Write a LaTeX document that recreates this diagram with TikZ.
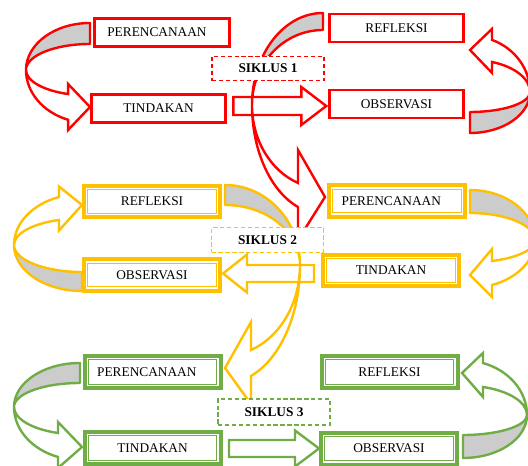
\documentclass[tikz,border=0pt]{standalone}
\usepackage{fontspec}
\setmainfont{Liberation Serif}
\usetikzlibrary{calc,backgrounds}

\definecolor{sred}{HTML}{FF0000}
\definecolor{syellow}{HTML}{FFC000}
\definecolor{sgreen}{HTML}{70AD47}

\tikzstyle{box1} = [rectangle, draw=sred, line width=2.2pt, fill=white, text width=82pt, inner xsep=9.5pt, minimum height=21pt, align=center]
\tikzstyle{box2} = [rectangle, draw=syellow, line width=3pt, fill=white, text width=83pt, inner xsep=9.5pt, minimum height=23.5pt, align=center, path picture={\draw[syellow, line width=0.7pt] ([shift={(2.9pt,-2.9pt)}]path picture bounding box.north west) rectangle ([shift={(-2.9pt,2.9pt)}]path picture bounding box.south east);}]
\tikzstyle{box3} = [rectangle, draw=sgreen, line width=3pt, fill=white, text width=83pt, inner xsep=9.5pt, minimum height=24pt, align=center, path picture={\draw[sgreen, line width=0.7pt] ([shift={(2.9pt,-2.9pt)}]path picture bounding box.north west) rectangle ([shift={(-2.9pt,2.9pt)}]path picture bounding box.south east);}]
\tikzstyle{lft} = [align=left]
\tikzstyle{tag} = [rectangle, dash pattern=on 3.2pt off 2pt, line width=0.8pt, fill=white, minimum width=84pt, minimum height=18.5pt, font=\bfseries]
\tikzstyle{flat} = [line width=1.8pt, fill=white, line join=miter]
\tikzstyle{back} = [line width=1.8pt, fill=gray!40, line join=round]
\tikzstyle{front} = [line width=1.8pt, fill=white, line join=miter]

\begin{document}
\begin{tikzpicture}[x=0.75pt, y=-0.75pt]
    \useasboundingbox (0,0) rectangle (528,466);

    \node (pr1) [box1, lft] at (162,32.5) {PERENCANAAN};
    \node (ti1) [box1] at (158.5,108.5) {TINDAKAN};
    \node (re1) [box1] at (396.5,28) {REFLEKSI};
    \node (ob1) [box1] at (396.5,104) {OBSERVASI};

    \node (re2) [box2] at (152,201.5) {REFLEKSI};
    \node (ob2) [box2] at (152,275) {OBSERVASI};
    \node (pr2) [box2, lft] at (397,201) {PERENCANAAN};
    \node (ti2) [box2] at (391,270.5) {TINDAKAN};

    \node (pr3) [box3, lft] at (152.5,372) {PERENCANAAN};
    \node (ti3) [box3] at (152.5,448) {TINDAKAN};
    \node (re3) [box3] at (389.5,372) {REFLEKSI};
    \node (ob3) [box3] at (389,448.5) {OBSERVASI};

    \node (sk1) [tag, draw=sred] at (268,68.5) {SIKLUS 1};
    \node (sk2) [tag, draw=syellow] at (267.5,240) {SIKLUS 2};
    \node (sk3) [tag, draw=sgreen, minimum height=19.5pt] at (274,412) {SIKLUS 3};

    \begin{scope}[on background layer]
    % straight arrows
    \draw [flat, draw=sred] ($(ti1.east)+(6,-2.5)$) ++(0,-9) -- ++(68,0) -- ++(0,-10) -- ++(25,19) -- ++(-25,19) -- ++(0,-10) -- ++(-68,0) -- cycle;
    \draw [flat, draw=syellow] ($(ti2.west)+(-7,3)$) ++(0,-8.5) -- ++(-67,0) -- ++(0,-10.5) -- ++(-24,19) -- ++(24,19) -- ++(0,-10.5) -- ++(67,0) -- cycle;
    \draw [flat, draw=sgreen] ($(ti3.east)+(6.5,0.5)$) ++(0,-8.5) -- ++(66,0) -- ++(0,-9.5) -- ++(24,18) -- ++(-24,18) -- ++(0,-9.5) -- ++(-66,0) -- cycle;

    % siklus 3
    \begin{scope}[shift={(80,407)}]
      \draw [back, draw=sgreen] (0,-44) arc[start angle=270, end angle=180, x radius=66, y radius=44] arc[start angle=180, end angle=270, x radius=66, y radius=24] -- cycle;
      \draw [front, draw=sgreen] (-66,0) arc[start angle=180, end angle=109.5, x radius=66, y radius=53] -- (-22,61) -- (2,40) -- (-22,15) -- (109.5:66 and 27.6) arc[start angle=109.5, end angle=180, x radius=66, y radius=27.6] -- cycle;
    \end{scope}
    \begin{scope}[shift={(463,415)}, xscale=-1, yscale=-1]
      \draw [back, draw=sgreen] (0,-43) arc[start angle=270, end angle=180, x radius=64, y radius=43] arc[start angle=180, end angle=270, x radius=64, y radius=20] -- cycle;
      \draw [front, draw=sgreen] (-64,0) arc[start angle=180, end angle=108.2, x radius=64, y radius=54.7] -- (-20,62) -- (1,42) -- (-20,18) -- (108.2:64 and 29.5) arc[start angle=108.2, end angle=180, x radius=64, y radius=29.5] -- cycle;
    \end{scope}

    % siklus 2
    \begin{scope}[shift={(82,245)}, yscale=-1]
      \draw [back, draw=syellow] (0,-46) arc[start angle=270, end angle=180, x radius=68, y radius=46] arc[start angle=180, end angle=270, x radius=68, y radius=27] -- cycle;
      \draw [front, draw=syellow] (-68,0) arc[start angle=180, end angle=109.8, x radius=68, y radius=51] -- (-23,58.5) -- (0,40) -- (-23,14.5) -- (109.8:68 and 26.6) arc[start angle=109.8, end angle=180, x radius=68, y radius=26.6] -- cycle;
    \end{scope}
    \begin{scope}[shift={(470,240)}, xscale=-1]
      \draw [back, draw=syellow] (0,-50) arc[start angle=270, end angle=180, x radius=65, y radius=50] arc[start angle=180, end angle=270, x radius=65, y radius=27] -- cycle;
      \draw [front, draw=syellow] (-65,0) arc[start angle=180, end angle=109.8, x radius=65, y radius=47.8] -- (-22,57) -- (0,35) -- (-22,9) -- (109.8:65 and 22.3) arc[start angle=109.8, end angle=180, x radius=65, y radius=22.3] -- cycle;
    \end{scope}
    \begin{scope}[shift={(225,265)}, xscale=-1]
      \draw [back, draw=syellow] (0,-80) arc[start angle=270, end angle=180, x radius=75, y radius=80] arc[start angle=180, end angle=270, x radius=75, y radius=60] -- cycle;
      \draw [front, draw=syellow] (-75,0) arc[start angle=180, end angle=110.3, x radius=75, y radius=118.3] -- (-26,139) -- (0,103) -- (-26,57) -- (110.3:75 and 90.6) arc[start angle=110.3, end angle=180, x radius=75, y radius=90.6] -- cycle;
    \end{scope}

    % siklus 1
    \begin{scope}[shift={(90,70)}]
      \draw [back, draw=sred] (0,-47) arc[start angle=270, end angle=180, x radius=64, y radius=47] arc[start angle=180, end angle=270, x radius=64, y radius=26] -- cycle;
      \draw [front, draw=sred] (-64,0) arc[start angle=180, end angle=110, x radius=64, y radius=53] -- (-21.9,60) -- (0,37) -- (-21.9,14) -- (110:64 and 25.6) arc[start angle=110, end angle=180, x radius=64, y radius=25.6] -- cycle;
    \end{scope}
    \begin{scope}[shift={(470,92)}, xscale=-1, yscale=-1]
      \draw [back, draw=sred] (0,-41) arc[start angle=270, end angle=180, x radius=60, y radius=41] arc[start angle=180, end angle=270, x radius=60, y radius=20] -- cycle;
      \draw [front, draw=sred] (-60,0) arc[start angle=180, end angle=111.5, x radius=60, y radius=56] -- (-22,63.1) -- (0,42) -- (-22,19.1) -- (111.5:60 and 32.3) arc[start angle=111.5, end angle=180, x radius=60, y radius=32.3] -- cycle;
    \end{scope}
    \begin{scope}[shift={(323,105)}]
      \draw [back, draw=sred] (0,-92) arc[start angle=270, end angle=180, x radius=71, y radius=92] arc[start angle=180, end angle=270, x radius=71, y radius=75] -- cycle;
      \draw [front, draw=sred] (-71,0) arc[start angle=180, end angle=110.6, x radius=71, y radius=109] -- (-25,135) -- (2,92) -- (-25,45) -- (110.6:71 and 83.3) arc[start angle=110.6, end angle=180, x radius=71, y radius=83.3] -- cycle;
    \end{scope}
    \end{scope}
\end{tikzpicture}
\end{document}
